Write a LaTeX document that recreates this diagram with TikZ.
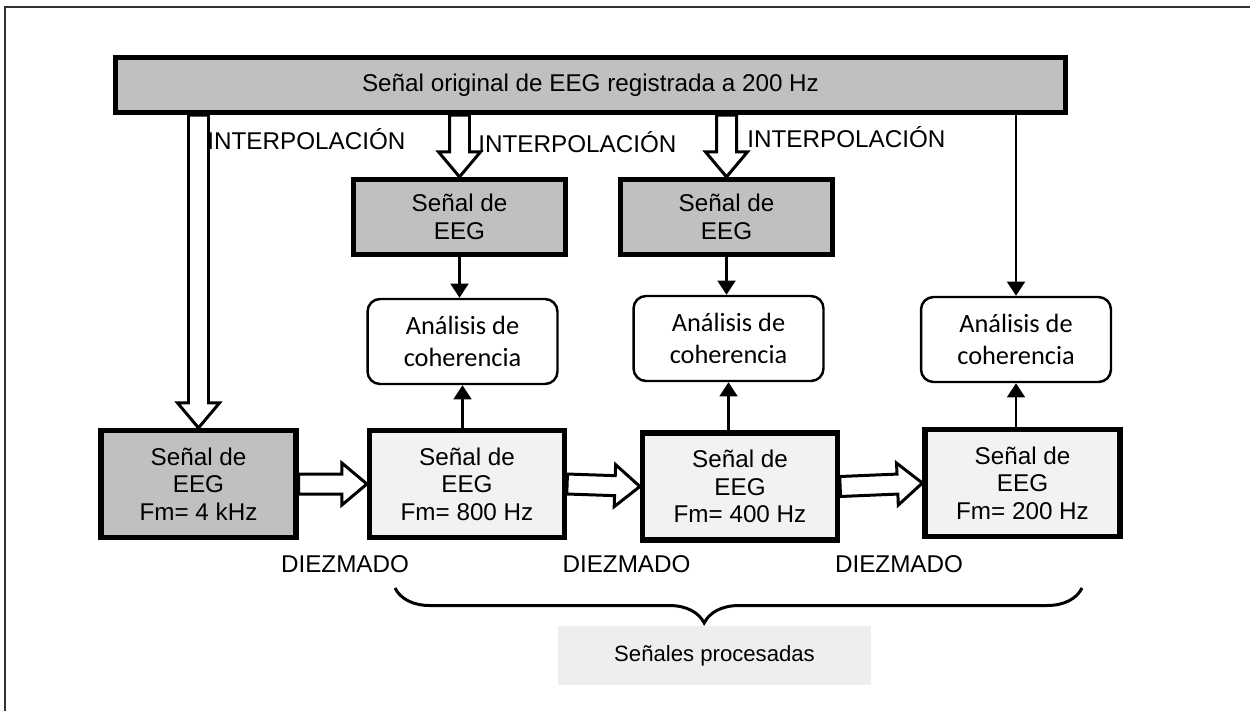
\documentclass[tikz,border=0pt]{standalone}
\usepackage{fontspec}
\setmainfont{Liberation Sans}
\newfontfamily\calibri{Carlito}
\usepackage{pgf,tikz}
\usetikzlibrary{calc}
\usetikzlibrary{arrows.meta}
\usetikzlibrary{decorations.pathreplacing}

\definecolor{grisoscuro}{RGB}{192,192,192}
\definecolor{grisclaro}{RGB}{242,242,242}
\definecolor{grisfondo}{RGB}{238,238,238}

% flecha hueca de #1 a #2
\newcommand{\flechahueca}[2]{%
  \coordinate (fb) at ($(#2)!0.5cm!(#1)$);
  \draw[hueca] ($(#1)!0.2cm!90:(fb)$) -- ($(fb)!0.2cm!-90:(#1)$) -- ($(fb)!0.42cm!-90:(#1)$)
    -- (#2) -- ($(fb)!0.42cm!90:(#1)$) -- ($(fb)!0.2cm!90:(#1)$) -- ($(#1)!0.2cm!-90:(fb)$) -- cycle;
}

\begin{document}
\begin{tikzpicture}[x=0.02cm,y=-0.02cm]
\tikzstyle{every node}=[font=\fontsize{13.8}{15.6}\selectfont]
\tikzstyle{barra}=[rectangle,draw,line width=3pt,fill=grisoscuro,minimum width=19cm,minimum height=1.1cm]
\tikzstyle{senal}=[rectangle,draw,line width=3pt,fill=grisoscuro,align=center,minimum width=3.9cm,minimum height=2.14cm]
\tikzstyle{eeg}=[rectangle,draw,line width=3pt,fill=grisoscuro,align=center,minimum width=4.24cm,minimum height=1.5cm]
\tikzstyle{analisis}=[rectangle,draw,rounded corners=0.25cm,line width=1.4pt,fill=white,align=center,
  minimum width=3.8cm,minimum height=1.7cm,font=\calibri\fontsize{15}{18.2}\selectfont]
\tikzstyle{etiqueta}=[inner sep=0pt]
\tikzstyle{flecha}=[line width=1.6pt,-{Triangle[length=8pt,width=10pt]}]
\tikzstyle{hueca}=[draw,line width=1.7pt,fill=white,line join=miter]

\useasboundingbox (0,0) rectangle (1250,711);
\draw[line width=1pt,black!80] (5,711) -- (5,7) -- (1250,7);

\node[barra] (orig) at (590.5,85) {Señal original de EEG registrada a 200 Hz};

\node[eeg] (g1) at (459.5,217) {Señal de\\EEG};
\node[eeg] (g2) at (726.5,217) {Señal de\\EEG};

\node[analisis] (a1) at (462.5,341.5) {Análisis de\\coherencia};
\node[analisis] (a2) at (728.5,338.5) {Análisis de\\coherencia};
\node[analisis] (a3) at (1016,339.5) {Análisis de\\coherencia};

\node[senal] (b1) at (198.5,484) {Señal de\\EEG\\Fm= 4 kHz};
\node[senal,fill=grisclaro] (b2) at (467,484) {Señal de\\EEG\\Fm= 800 Hz};
\node[senal,fill=grisclaro] (b3) at (740,486.5) {Señal de\\EEG\\Fm= 400 Hz};
\node[senal,fill=grisclaro] (b4) at (1022.5,483) {Señal de\\EEG\\Fm= 200 Hz};

\node[etiqueta,anchor=base west] (i1) at (207,149) {INTERPOLACIÓN};
\node[etiqueta,anchor=base west] (i2) at (478,152) {INTERPOLACIÓN};
\node[etiqueta,anchor=base west] (i3) at (747,147) {INTERPOLACIÓN};

\node[etiqueta,anchor=base] (d1) at (345,572) {DIEZMADO};
\node[etiqueta,anchor=base] (d2) at (626.5,572) {DIEZMADO};
\node[etiqueta,anchor=base] (d3) at (899,572) {DIEZMADO};

\node[fill=grisfondo,minimum width=6.26cm,minimum height=1.18cm,font=\fontsize{12.6}{14}\selectfont] (proc) at (714.5,655.5) {Señales procesadas};

% interpolacion
\coordinate (s1) at (orig.south -| b1.north);
\coordinate (s2) at (orig.south -| g1.north);
\coordinate (s3) at (orig.south -| g2.north);
\flechahueca{s1}{b1.north}
\flechahueca{s2}{g1.north}
\flechahueca{s3}{g2.north}

% diezmado
\flechahueca{b1.east}{b2.west}
\flechahueca{b2.east}{b3.west}
\flechahueca{b3.east}{b4.west}

\draw[flecha] (g1.south) -- (g1.south |- a1.north);
\draw[flecha] (g2.south) -- (g2.south |- a2.north);
\draw[flecha] (orig.south -| a3.north) -- (a3.north);
\draw[flecha] (a1.south |- b2.north) -- (a1.south);
\draw[flecha] (a2.south |- b3.north) -- (a2.south);
\draw[flecha] (a3.south |- b4.north) -- (a3.south);

\coordinate (l1) at (395,588);
\coordinate (l2) at (1082,588);
\draw[line width=1.7pt,decorate,decoration={brace,mirror,amplitude=0.7cm,aspect=0.45}] (l1) -- (l2);

\end{tikzpicture}
\end{document}
